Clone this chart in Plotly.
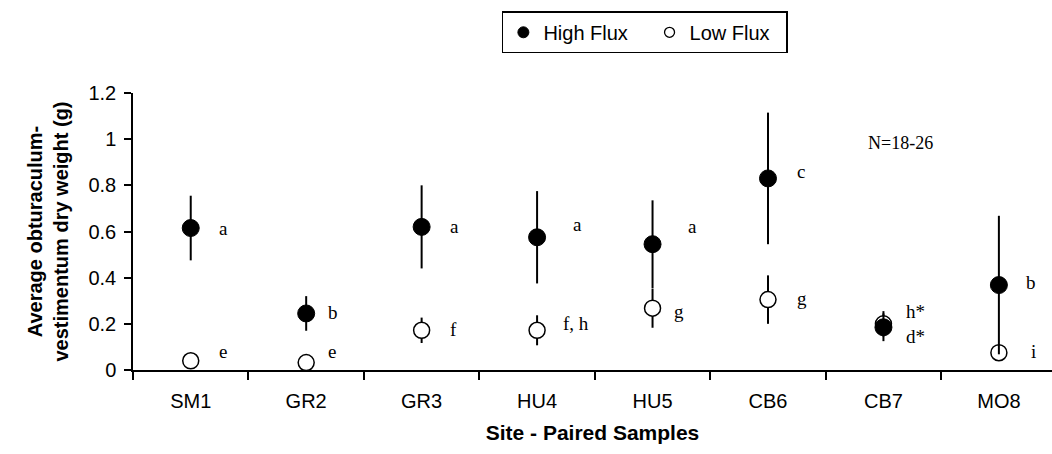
import plotly.graph_objects as go

sites = ["SM1", "GR2", "GR3", "HU4", "HU5", "CB6", "CB7", "MO8"]
high_mean = [0.615, 0.245, 0.62, 0.575, 0.545, 0.83, 0.185, 0.368]
high_err = [0.14, 0.075, 0.18, 0.20, 0.19, 0.285, 0.06, 0.30]
low_mean = [0.04, 0.032, 0.172, 0.172, 0.268, 0.305, 0.2, 0.075]
low_err = [0.02, 0.01, 0.055, 0.065, 0.085, 0.105, 0.055, 0.02]

high_letters = ["a", "b", "a", "a", "a", "c", "d*", "b"]
high_letter_y = [0.615, 0.25, 0.62, 0.63, 0.62, 0.86, 0.145, 0.378]
low_letters = ["e", "e", "f", "f, h", "g", "g", "h*", "i"]
low_letter_y = [0.08, 0.08, 0.175, 0.2, 0.253, 0.31, 0.255, 0.08]
letter_dx = [26, 20, 26, 34, 33, 27, 21, 25]
low_letter_dx = [26, 20, 26, 24, 19, 27, 21, 30]

y_ticks = [0, 0.2, 0.4, 0.6, 0.8, 1.0, 1.2]
y_tick_text = ["0", "0.2", "0.4", "0.6", "0.8", "1", "1.2"]

SANS = "Liberation Sans, Arial, sans-serif"
SERIF = "Liberation Serif, Times New Roman, serif"

fig = go.Figure()

fig.add_trace(go.Scatter(
    x=sites, y=low_mean, mode="markers", showlegend=False,
    marker=dict(symbol="circle", size=16, color="white",
                line=dict(color="black", width=1.5)),
    error_y=dict(type="data", array=low_err, color="black", thickness=2, width=0),
))
fig.add_trace(go.Scatter(
    x=sites, y=high_mean, mode="markers", showlegend=False,
    marker=dict(symbol="circle", size=17, color="black",
                line=dict(color="black", width=1)),
    error_y=dict(type="data", array=high_err, color="black", thickness=2, width=0),
))
# legend entries
fig.add_trace(go.Scatter(
    x=[None], y=[None], mode="markers", name="High Flux   ",
    marker=dict(symbol="circle", size=11, color="black", line=dict(color="black", width=1)),
))
fig.add_trace(go.Scatter(
    x=[None], y=[None], mode="markers", name="Low Flux  ",
    marker=dict(symbol="circle", size=10, color="white", line=dict(color="black", width=1.3)),
))

annotations = []
for s, t, yv, dx in zip(sites, high_letters, high_letter_y, letter_dx):
    annotations.append(dict(x=s, y=yv, text=t, showarrow=False, xanchor="left",
                            xshift=dx, yanchor="middle",
                            font=dict(family=SERIF, size=19, color="black")))
for s, t, yv, dx in zip(sites, low_letters, low_letter_y, low_letter_dx):
    annotations.append(dict(x=s, y=yv, text=t, showarrow=False, xanchor="left",
                            xshift=dx, yanchor="middle",
                            font=dict(family=SERIF, size=19, color="black")))
annotations.append(dict(x=0.835, y=0.985, xref="paper", yref="y", text="N=18-26",
                        showarrow=False, xanchor="center", yanchor="middle",
                        font=dict(family=SERIF, size=18, color="black")))

fig.update_layout(
    width=1052, height=454,
    margin=dict(l=133, r=0, t=93, b=84),
    paper_bgcolor="white", plot_bgcolor="white",
    font=dict(family=SANS, size=20, color="black"),
    showlegend=True,
    legend=dict(orientation="h", x=0.557, xanchor="center", y=1.295, yanchor="top",
                bordercolor="black", borderwidth=1.5,
                font=dict(family=SANS, size=20, color="black"),
                itemsizing="trace"),
    annotations=annotations,
)

fig.update_xaxes(
    type="category", range=[-0.5, 7.46],
    showline=True, linecolor="black", linewidth=2,
    ticks="outside", tickson="boundaries", ticklen=8, tickwidth=1.5, tickcolor="black",
    showgrid=False, zeroline=False, ticklabelstandoff=12,
    tickfont=dict(family=SANS, size=20),
    title=dict(text="<b>Site - Paired Samples</b>", standoff=14,
               font=dict(family=SANS, size=21)),
)
fig.update_yaxes(
    range=[0, 1.2], tickvals=y_ticks, ticktext=y_tick_text,
    showline=True, linecolor="black", linewidth=1.5,
    ticks="outside", ticklen=7, tickwidth=1.5, tickcolor="black",
    showgrid=False, zeroline=False, ticklabelstandoff=4,
    tickfont=dict(family=SANS, size=20),
    title=dict(text="<b>Average obturaculum-<br>vestimentum dry weight (g)</b>", standoff=14,
               font=dict(family=SANS, size=20)),
)

fig.write_html("out.html")
